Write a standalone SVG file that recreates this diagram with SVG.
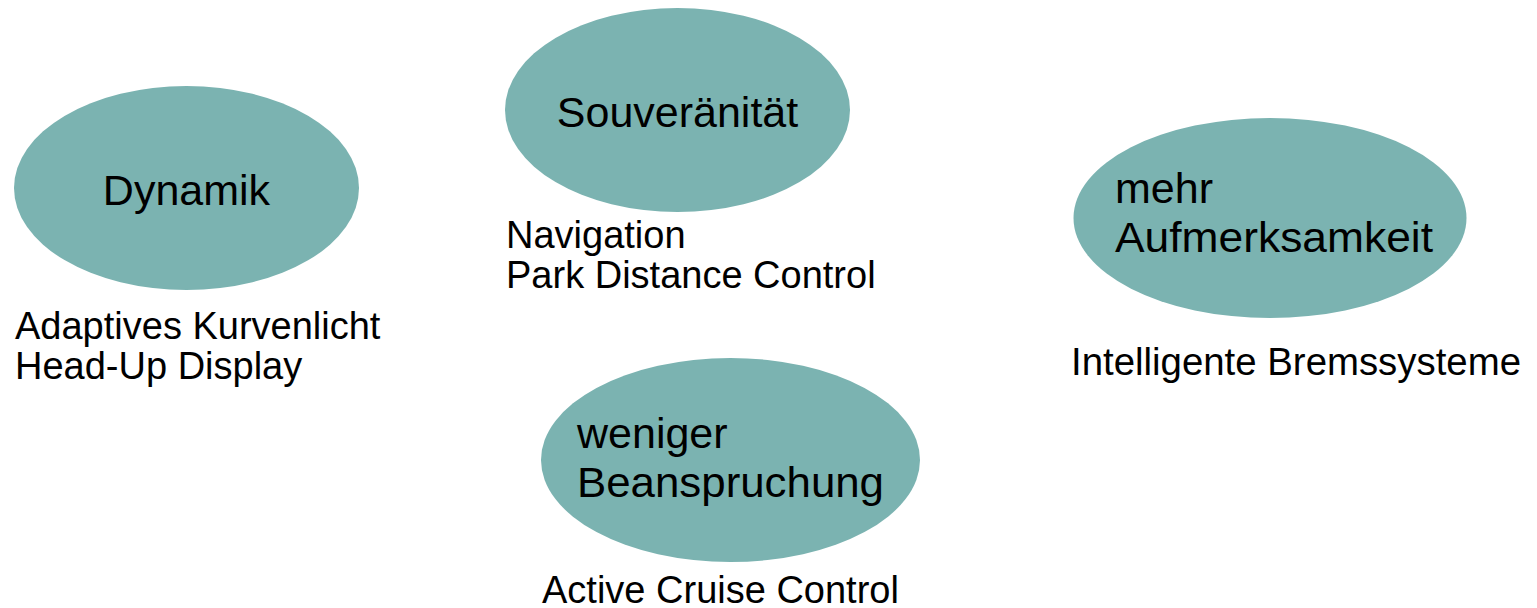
<svg xmlns="http://www.w3.org/2000/svg" width="1537" height="608" viewBox="0 0 1537 608">
<style>
.node{fill:#7bb3b1;stroke:none}
.t{font-family:"Liberation Sans",Arial,sans-serif;fill:#000}
.big{font-size:43px}
.lab{font-size:38px}
</style>
<rect width="1537" height="608" fill="#fff"/>
<g id="connectors"></g>
<g id="node-dynamik">
<ellipse class="node" cx="186.5" cy="188" rx="172.5" ry="102"/>
<text class="t big" x="186.5" y="205" text-anchor="middle">Dynamik</text>
<text class="t lab" x="15" y="339">Adaptives Kurvenlicht</text>
<text class="t lab" x="15" y="379">Head-Up Display</text>
</g>
<g id="node-souveraenitaet">
<ellipse class="node" cx="677.5" cy="110" rx="172.5" ry="102"/>
<text class="t big" x="677.5" y="127" text-anchor="middle">Souveränität</text>
<text class="t lab" x="506" y="248">Navigation</text>
<text class="t lab" x="506" y="288">Park Distance Control</text>
</g>
<g id="node-aufmerksamkeit">
<ellipse class="node" cx="1270" cy="218" rx="196.5" ry="100"/>
<text class="t big" x="1115" y="203">mehr</text>
<text class="t big" x="1115" y="252" textLength="318" lengthAdjust="spacingAndGlyphs">Aufmerksamkeit</text>
<text class="t lab" x="1071" y="375" textLength="450" lengthAdjust="spacingAndGlyphs">Intelligente Bremssysteme</text>
</g>
<g id="node-beanspruchung">
<ellipse class="node" cx="730.5" cy="460" rx="189.5" ry="102"/>
<text class="t big" x="577" y="448">weniger</text>
<text class="t big" x="577" y="497" textLength="307" lengthAdjust="spacingAndGlyphs">Beanspruchung</text>
<text class="t lab" x="542" y="603">Active Cruise Control</text>
</g>
</svg>
